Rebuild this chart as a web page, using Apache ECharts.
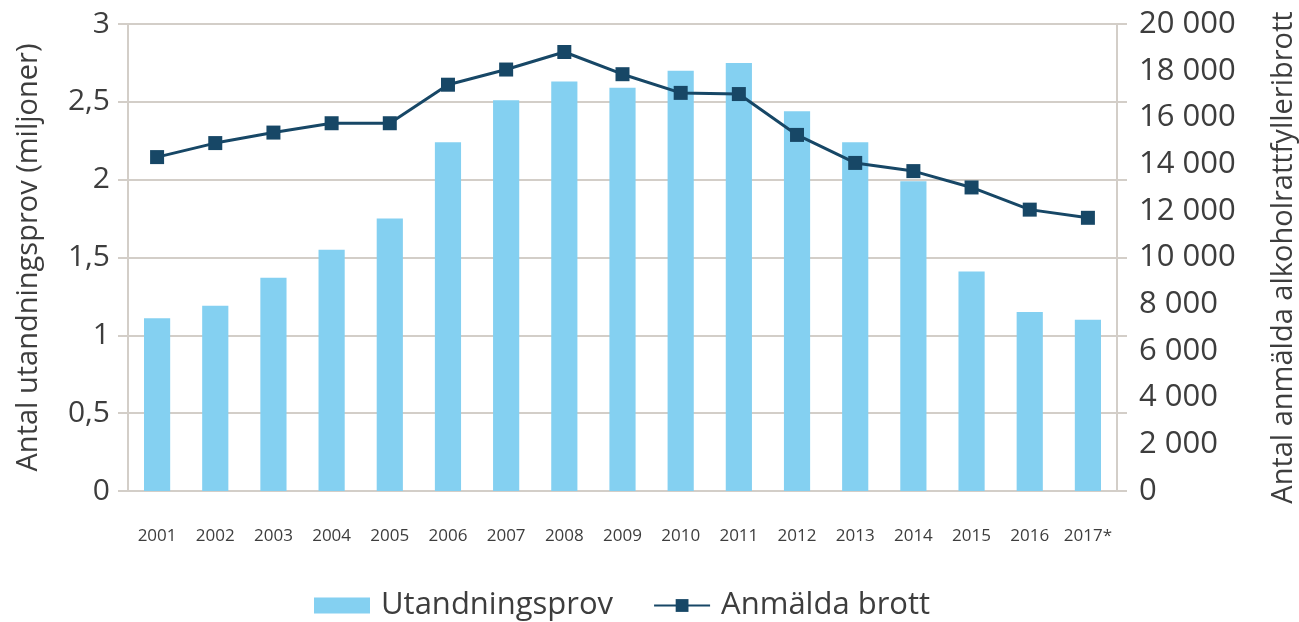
<!DOCTYPE html>
<html lang="sv">
<head>
    <meta charset="UTF-8">
    <title>Utandningsprov och anmälda brott</title>
    <script src="https://cdn.jsdelivr.net/npm/echarts@6/dist/echarts.min.js"></script>
    <style>
        body { margin: 0; background: #fff; }
    </style>
</head>
<body>
    <div id="chart" style="width: 1299px; height: 622px;"></div>

    <script>
        var ar = ['2001', '2002', '2003', '2004', '2005', '2006', '2007', '2008', '2009',
                  '2010', '2011', '2012', '2013', '2014', '2015', '2016', '2017*'];
        // miljoner utandningsprov
        var utandningsprov = [1.11, 1.19, 1.37, 1.55, 1.75, 2.24, 2.51, 2.63, 2.59,
                              2.70, 2.75, 2.44, 2.24, 1.99, 1.41, 1.15, 1.10];
        // anmälda alkoholrattfylleribrott
        var anmaldaBrott = [14300, 14900, 15350, 15750, 15750, 17400, 18050, 18800, 17850,
                            17050, 17000, 15250, 14050, 13700, 13000, 12050, 11700];

        var gra = '#d3cec8';
        var textColor = '#3d3d3d';
        var font = 'Open Sans';

        var chart = echarts.init(document.getElementById('chart'));

        chart.setOption({
            animation: false,
            grid: { left: 128, right: 182, top: 24, bottom: 131, outerBoundsMode: 'none' },
            legend: {
                top: 585,
                left: 309,
                itemWidth: 56,
                itemHeight: 16,
                itemGap: 40,
                textStyle: { fontFamily: font, fontSize: 31, color: textColor, padding: [0, 0, 0, 6] },
                data: [
                    { name: 'Utandningsprov', icon: 'rect' },
                    { name: 'Anmälda brott' }
                ]
            },
            xAxis: {
                type: 'category',
                data: ar,
                axisLine: { lineStyle: { color: gra, width: 2 } },
                axisTick: { length: 10, lineStyle: { color: gra, width: 2 } },
                axisLabel: { interval: 0, fontFamily: font, fontSize: 17, color: textColor, margin: 37 }
            },
            yAxis: [
                {
                    type: 'value',
                    min: 0, max: 3, interval: 0.5,
                    name: 'Antal utandningsprov (miljoner)',
                    nameLocation: 'middle',
                    nameGap: 85,
                    nameTextStyle: { fontFamily: font, fontSize: 29, color: textColor },
                    axisLine: { show: true, lineStyle: { color: gra, width: 2 } },
                    axisTick: { show: true, length: 10, lineStyle: { color: gra, width: 2 } },
                    axisLabel: {
                        fontFamily: font, fontSize: 30, color: textColor, margin: 18,
                        formatter: function (v) { return String(v).replace('.', ','); }
                    },
                    splitLine: { lineStyle: { color: gra, width: 2 } }
                },
                {
                    type: 'value',
                    position: 'right',
                    min: 0, max: 20000, interval: 2000,
                    name: 'Antal anmälda alkoholrattfylleribrott',
                    nameLocation: 'middle',
                    nameGap: 152,
                    nameRotate: 90,
                    nameTextStyle: { fontFamily: font, fontSize: 29, color: textColor },
                    axisLine: { show: true, lineStyle: { color: gra, width: 2 } },
                    axisTick: { show: false },
                    axisLabel: {
                        fontFamily: font, fontSize: 31, color: textColor, margin: 22,
                        formatter: function (v) {
                            return String(v).replace(/\B(?=(\d{3})+(?!\d))/g, ' ');
                        }
                    },
                    splitLine: { show: false }
                },
                {
                    // bara för streckmarkeringar på höger axel
                    type: 'value',
                    position: 'right',
                    min: 0, max: 3, interval: 0.5,
                    axisLine: { show: false },
                    axisTick: { show: true, length: 10, lineStyle: { color: gra, width: 2 } },
                    axisLabel: { show: false },
                    splitLine: { show: false }
                }
            ],
            series: [
                {
                    name: 'Utandningsprov',
                    type: 'bar',
                    yAxisIndex: 0,
                    data: utandningsprov,
                    barWidth: '45%',
                    itemStyle: { color: '#84d0f1' }
                },
                {
                    name: 'Anmälda brott',
                    type: 'line',
                    yAxisIndex: 1,
                    data: anmaldaBrott,
                    symbol: 'rect',
                    symbolSize: 14,
                    lineStyle: { color: '#174766', width: 3 },
                    itemStyle: { color: '#174766' }
                }
            ]
        });
    </script>
</body>
</html>
